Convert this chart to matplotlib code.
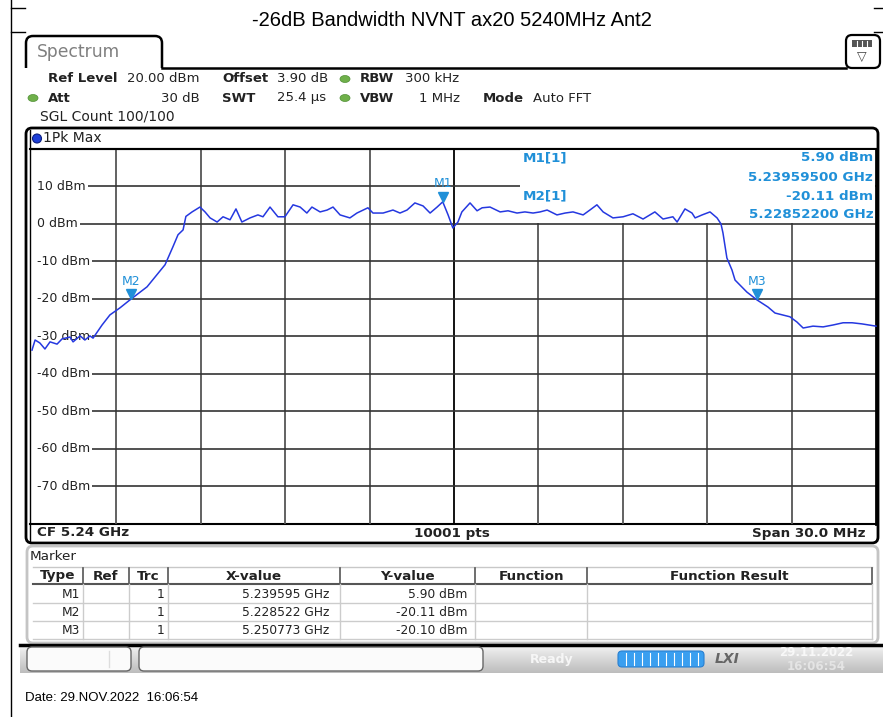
import numpy as np
import matplotlib.pyplot as plt
import matplotlib.transforms as mtransforms
from matplotlib.colors import LinearSegmentedColormap
from matplotlib.patches import FancyBboxPatch, Rectangle, Ellipse, Circle

# ---- trace (MHz, dBm) ----
freq_mhz = [5225.00, 5225.11, 5225.28, 5225.46, 5225.64, 5225.89, 5226.07, 5226.35, 5226.46,
            5226.71, 5226.88, 5227.06, 5227.17, 5227.49, 5227.77, 5228.13, 5228.48, 5229.09,
            5229.73, 5230.01, 5230.19, 5230.37, 5230.47, 5230.69, 5230.97, 5231.15, 5231.33,
            5231.58, 5231.79, 5232.04, 5232.25, 5232.46, 5232.75, 5233.03, 5233.21, 5233.46,
            5233.74, 5233.99, 5234.28, 5234.53, 5234.77, 5234.95, 5235.24, 5235.49, 5235.70,
            5235.95, 5236.30, 5236.55, 5236.94, 5237.12, 5237.48, 5237.83, 5238.08, 5238.33,
            5238.61, 5238.90, 5239.15, 5239.40, 5239.60, 5239.79, 5239.96, 5240.14, 5240.28,
            5240.57, 5240.82, 5241.00, 5241.28, 5241.64, 5241.92, 5242.24, 5242.52, 5242.81,
            5243.06, 5243.31, 5243.66, 5243.95, 5244.23, 5244.59, 5244.83, 5245.08, 5245.30,
            5245.65, 5246.01, 5246.36, 5246.72, 5247.14, 5247.43, 5247.78, 5247.93, 5248.21,
            5248.46, 5248.57, 5248.82, 5249.10, 5249.35, 5249.49, 5249.56, 5249.70, 5249.88,
            5249.99, 5250.41, 5250.77, 5251.16, 5251.41, 5251.94, 5252.19, 5252.41, 5252.76,
            5253.12, 5253.47, 5253.83, 5254.15, 5254.50, 5255.00]
level_dbm = [-33.7, -31.0, -31.8, -33.4, -31.5, -32.1, -30.7, -30.2, -31.5,
             -29.9, -31.0, -29.9, -30.5, -27.0, -24.3, -22.4, -20.3, -16.8,
             -10.9, -6.1, -2.9, -1.6, 2.0, 3.2, 4.5, 3.2, 1.6,
             0.5, 1.9, 1.1, 4.0, 0.5, 1.6, 2.4, 1.9, 4.5,
             1.9, 1.9, 5.1, 4.5, 2.9, 4.5, 3.2, 3.7, 4.5,
             2.4, 1.6, 2.9, 4.3, 2.9, 2.9, 3.7, 2.9, 3.7,
             5.6, 4.8, 2.9, 4.5, 5.9, 2.4, -1.1, 0.5, 3.2,
             5.6, 3.5, 4.3, 4.5, 3.2, 3.5, 2.9, 3.2, 2.9,
             3.2, 3.7, 2.4, 2.9, 3.2, 2.4, 3.7, 5.1, 3.2,
             1.6, 1.9, 2.7, 1.3, 3.2, 1.3, 1.9, 0.5, 4.0,
             2.9, 1.6, 2.4, 3.2, 1.6, 0.0, -2.4, -9.1, -12.3,
             -15.0, -18.2, -20.3, -22.2, -23.8, -24.8, -26.2, -27.8, -27.3,
             -27.5, -27.0, -26.4, -26.4, -26.7, -27.3]

marker_names = ["M1", "M2", "M3"]
marker_freq_mhz = [5239.595, 5228.522, 5250.773]
marker_level = [5.90, -20.11, -20.10]
marker_x_text = ["5.239595 GHz", "5.228522 GHz", "5.250773 GHz"]
marker_y_text = ["5.90 dBm", "-20.11 dBm", "-20.10 dBm"]

level_ticks = [10, 0, -10, -20, -30, -40, -50, -60, -70]
freq_grid = [5228, 5231, 5234, 5237, 5240, 5243, 5246, 5249, 5252]

table_cols = ["Type", "Ref", "Trc", "X-value", "Y-value", "Function", "Function Result"]
col_edges = [33, 83, 129, 168, 340, 475, 587, 872]

W, H = 883, 717
MB = '#2090d8'   # marker blue
TR = '#2538e0'   # trace blue
TXT = '#222222'
UI = 'DejaVu Sans'

fig = plt.figure(figsize=(W / 100, H / 100), dpi=100)
bg = fig.add_axes([0, 0, 1, 1])
bg.set_xlim(0, W)
bg.set_ylim(H, 0)
bg.axis('off')

# page frame marks
bg.plot([11, 11], [0, H], color='black', lw=1)
bg.plot([11, 25], [8, 8], color='black', lw=1)
bg.plot([11, 25], [32, 32], color='black', lw=1)
bg.plot([874, 883], [8, 8], color='black', lw=1)
bg.plot([874, 883], [32, 32], color='black', lw=1)

bg.text(452, 20, "-26dB Bandwidth NVNT ax20 5240MHz Ant2", ha='center', va='center',
        fontsize=14.5, family='Liberation Sans', color='black')

# Spectrum tab
bg.plot([26, 26], [68, 43], color='black', lw=1.8, solid_capstyle='round')
bg.add_patch(FancyBboxPatch((26, 36), 136, 40, boxstyle="round,pad=0,rounding_size=7",
                            fc='white', ec='black', lw=1.8, zorder=2))
bg.add_patch(Rectangle((24, 68), 140, 12, fc='white', ec='none', zorder=3))
bg.plot([162, 846], [68, 68], color='black', lw=1.8, zorder=4)
bg.text(37, 52, "Spectrum", fontsize=12.3, family=UI, color='#808080', va='center', zorder=4)

# icon box
bg.add_patch(FancyBboxPatch((846, 35), 34, 33, boxstyle="round,pad=0,rounding_size=6",
                            fc='white', ec='black', lw=1.6, zorder=4))
bg.add_patch(Rectangle((852, 40), 20, 7, fc='#555555', ec='none', zorder=5))
for xx in [857, 862, 867]:
    bg.plot([xx, xx], [41, 46], color='white', lw=0.8, zorder=6)
bg.text(862, 56, "\u25bd", ha='center', va='center', fontsize=9, family=UI, color='#444444', zorder=5)

# settings
fs = 9.5
def t(x, y, s, bold=False, ha='left', color=TXT, size=fs):
    bg.text(x, y, s, ha=ha, va='center', fontsize=size, family=UI,
            fontweight='bold' if bold else 'normal', color=color, zorder=5)

t(48, 79, "Ref Level", True)
t(127, 79, "20.00 dBm")
t(222, 79, "Offset", True)
t(277, 79, "3.90 dB")
t(360, 79, "RBW", True)
t(405, 79, "300 kHz")
t(48, 98, "Att", True)
t(200, 98, "30 dB", ha='right')
t(222, 98, "SWT", True)
t(277, 98, "25.4 \u00b5s")
t(360, 98, "VBW", True)
t(460, 98, "1 MHz", ha='right')
t(483, 98, "Mode", True)
t(533, 98, "Auto FFT")
t(40, 117, "SGL Count 100/100", size=10)
for (cx, cy) in [(33, 98), (345, 79), (345, 98)]:
    bg.add_patch(Ellipse((cx, cy), 10, 7, fc='#6fb04a', ec='#4f8f35', lw=0.5, zorder=5))

# plot panel
bg.add_patch(FancyBboxPatch((26, 128), 852, 415, boxstyle="round,pad=0,rounding_size=6",
                            fc='white', ec='black', lw=2, zorder=1))
bg.plot([30, 30], [130, 541], color='black', lw=1, zorder=2)
bg.plot([30, 877], [149, 149], color='black', lw=1.5, zorder=2)
bg.plot([30, 877], [523.5, 523.5], color='black', lw=1.5, zorder=2)
bg.add_patch(Circle((37, 138.5), 4.5, fc='#1d3fd8', ec='#0b1f80', lw=0.8, zorder=5))
t(43, 138.5, "1Pk Max", size=10)
t(37, 533, "CF 5.24 GHz", True, size=9.7)
t(452, 533, "10001 pts", True, ha='center', size=9.7)
t(866, 533, "Span 30.0 MHz", True, ha='right', size=9.7)

# marker panel
bg.add_patch(FancyBboxPatch((27, 546), 851, 97, boxstyle="round,pad=0,rounding_size=6",
                            fc='white', ec='#c4c4c4', lw=2, zorder=1))
t(30, 556, "Marker", size=9.7)
bg.plot([col_edges[0], col_edges[-1]], [567, 567], color='#c8c8c8', lw=1, zorder=2)
bg.plot([col_edges[0], col_edges[-1]], [584, 584], color='#555555', lw=1.5, zorder=2)
for yy in [603, 621, 639]:
    bg.plot([col_edges[0], col_edges[-1]], [yy, yy], color='#cccccc', lw=1, zorder=2)
for xx in col_edges[1:]:
    bg.plot([xx, xx], [568, 584], color='#555555', lw=1.2, zorder=2)
    bg.plot([xx, xx], [584, 639], color='#cccccc', lw=1, zorder=2)
for i, name in enumerate(table_cols):
    t((col_edges[i] + col_edges[i + 1]) / 2, 576, name, True, ha='center', size=9.7)
for r, name in enumerate(marker_names):
    yy = 594 + 18 * r
    t(80, yy, name, ha='right', size=8.8)
    t(164, yy, "1", ha='right', size=8.8)
    t(329, yy, marker_x_text[r], ha='right', size=8.8)
    t(467, yy, marker_y_text[r], ha='right', size=8.8)

# status bar
bg.plot([20, W], [644.5, 644.5], color='black', lw=2.5, zorder=3)
bar_cmap = LinearSegmentedColormap.from_list("bar", ['#f2f2f2', '#d6d6d6', '#bdbdbd'])
grad = np.linspace(0, 1, 50).reshape(-1, 1)
bg.imshow(grad, extent=[20, W, 673, 646], cmap=bar_cmap, aspect='auto', zorder=1)
bg.add_patch(FancyBboxPatch((27, 647), 104, 24, boxstyle="round,pad=0,rounding_size=5",
                            fc='#fbfbfb', ec='#666666', lw=1, zorder=3))
bg.plot([109, 109], [651, 667], color='#dddddd', lw=1, zorder=4)
bg.add_patch(FancyBboxPatch((139, 647), 344, 24, boxstyle="round,pad=0,rounding_size=5",
                            fc='#fbfbfb', ec='#666666', lw=1, zorder=3))
bg.text(552, 659, "Ready", ha='center', va='center', fontsize=9, family=UI,
        fontweight='bold', color='#f6f6f6', zorder=4)
bg.add_patch(FancyBboxPatch((618, 651), 86, 16, boxstyle="round,pad=0,rounding_size=4",
                            fc='#3a9ff0', ec='#2a80d0', lw=0.8, zorder=3))
for xx in np.arange(626, 702, 8):
    bg.plot([xx, xx], [653, 665], color='white', lw=0.8, zorder=4)
bg.text(727, 659, "LXI", ha='center', va='center', fontsize=10, family=UI,
        fontweight='bold', style='italic', color='#666666', zorder=4)
bg.text(816, 653, "29.11.2022", ha='center', va='center', fontsize=8.5, family=UI,
        fontweight='bold', color='#f8f8f8', zorder=4)
bg.text(816, 667, "16:06:54", ha='center', va='center', fontsize=8.5, family=UI,
        fontweight='bold', color='#e4e4e4', zorder=4)

bg.text(25, 698, "Date: 29.NOV.2022  16:06:54", ha='left', va='center', fontsize=9.5,
        family='Liberation Sans', color='black')

# ---- the trace axes ----
x0, x1, y0, y1 = 32, 876, 149, 523.5
ax = fig.add_axes([x0 / W, 1 - y1 / H, (x1 - x0) / W, (y1 - y0) / H])
ax.set_xlim(5225, 5255)
ax.set_ylim(-80, 20)
ax.axis('off')
ax.patch.set_alpha(0)

for f in freq_grid:
    ax.axvline(f, color='black' if f == 5240 else '#555555', lw=1.3, zorder=1)
for v in level_ticks:
    ax.axhline(v, xmin=0.005, color='#333333', lw=1.2, zorder=1)
    ax.text(5225.18, v, f"{v} dBm", ha='left', va='center', fontsize=9, family=UI,
            color=TXT, zorder=2,
            bbox=dict(boxstyle='square,pad=0.15', fc='white', ec='none'))
ax.plot([5225, 5255], [20, 20], color='black', lw=1.5, zorder=1, clip_on=False)
ax.plot([5255, 5255], [-80, 20], color='black', lw=2, zorder=1, clip_on=False)

# marker readout box
ax.add_patch(Rectangle((5242.35, 0.35), 12.6, 19.5, fc='white', ec='none', zorder=2))
ax.plot(freq_mhz, level_dbm, color=TR, lw=1.1, zorder=3, clip_on=False)

up = mtransforms.offset_copy(ax.transData, fig=fig, x=0, y=3.5, units='points')
for name, f, lv in zip(marker_names, marker_freq_mhz, marker_level):
    ax.plot(f, lv, marker='v', ms=7.5, color=MB, mec=MB, transform=up, zorder=4)
    ax.annotate(name, (f, lv), xytext=(0, 13), textcoords='offset points', ha='center',
                va='center', fontsize=9, family=UI, color=MB, zorder=4)

def mt(x, y, s, ha):
    ax.text(x, y, s, ha=ha, va='center', fontsize=9.7, family=UI, fontweight='bold',
            color=MB, zorder=4)

mt(5242.45, 17.6, "M1[1]", 'left')
mt(5254.9, 17.6, "5.90 dBm", 'right')
mt(5254.9, 12.5, "5.23959500 GHz", 'right')
mt(5242.45, 7.4, "M2[1]", 'left')
mt(5254.9, 7.4, "-20.11 dBm", 'right')
mt(5254.9, 2.5, "5.22852200 GHz", 'right')

fig.savefig("out.png", dpi=100)
